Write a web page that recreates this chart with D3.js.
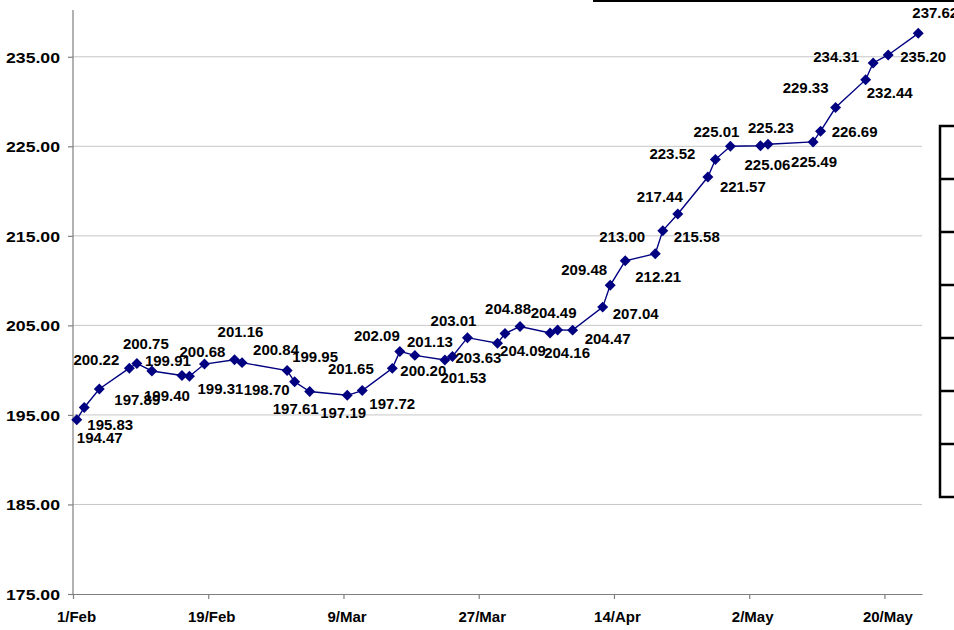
<!DOCTYPE html>
<html>
<head>
<meta charset="utf-8">
<script src="https://cdn.jsdelivr.net/npm/d3@7/dist/d3.min.js"></script>
<style>
  body { margin: 0; background: #fff; }
  svg { display: block; }
  text { font-family: Arial, "Liberation Sans", sans-serif; font-weight: bold; fill: #000; }
</style>
</head>
<body>
<svg id="chart" width="954" height="630"></svg>
<script>
'use strict';

// ── data ────────────────────────────────────────────────
const dates = [
  '2011-02-01', '2011-02-02', '2011-02-04', '2011-02-08', '2011-02-09', '2011-02-11',
  '2011-02-15', '2011-02-16', '2011-02-18', '2011-02-22', '2011-02-23', '2011-03-01',
  '2011-03-02', '2011-03-04', '2011-03-09', '2011-03-11', '2011-03-15', '2011-03-16',
  '2011-03-18', '2011-03-22', '2011-03-23', '2011-03-25', '2011-03-29', '2011-03-30',
  '2011-04-01', '2011-04-05', '2011-04-06', '2011-04-08', '2011-04-12', '2011-04-13',
  '2011-04-15', '2011-04-19', '2011-04-20', '2011-04-22', '2011-04-26', '2011-04-27',
  '2011-04-29', '2011-05-03', '2011-05-04', '2011-05-10', '2011-05-11', '2011-05-13',
  '2011-05-17', '2011-05-18', '2011-05-20', '2011-05-24'
];
const values = [
  194.47, 195.83, 197.89, 200.22, 200.75, 199.91,
  199.40, 199.31, 200.68, 201.16, 200.84, 199.95,
  198.70, 197.61, 197.19, 197.72, 200.20, 202.09,
  201.65, 201.13, 201.53, 203.63, 203.01, 204.09,
  204.88, 204.16, 204.49, 204.47, 207.04, 209.48,
  212.21, 213.00, 215.58, 217.44, 221.57, 223.52,
  225.01, 225.06, 225.23, 225.49, 226.69, 229.33,
  232.44, 234.31, 235.20, 237.62
];
const yTicks = [175, 185, 195, 205, 215, 225, 235];
const xTicks = ['2011-02-01', '2011-02-19', '2011-03-09', '2011-03-27', '2011-04-14', '2011-05-02', '2011-05-20'];

// label placement relative to its point (layout only)
const labelNudge = [
  [23, 18], [26, 17], [38, 11], [-33, -9], [9, -20], [16, -10],
  [-15, 20], [31, 12], [-2, -12], [6, -28], [34, -13], [28, -14],
  [-28, 8], [-14, 17], [-4, 17], [30, 13], [31, 2], [-23, -16],
  [-64, 13], [-15, -18], [11, 21], [11, 20], [-44, -23], [18, 17],
  [-12, -18], [17, 20], [-4, -17], [35, 8], [33, 6], [-26, -16],
  [33, 16], [-33, -17], [34, 6], [-18, -17], [35, 10], [-43, -6],
  [-14, -15], [7, 19], [3, -17], [1, 20], [34, 0], [-30, -20],
  [24, 13], [-37, -6], [35, 2], [17, -21]
];

// ── layout ──────────────────────────────────────────────
const L = 73, R = 922, T = 12, B = 594;
const NAVY = '#000080';
const parse = d3.utcParse('%Y-%m-%d');
const HALF_DAY = 12 * 3600 * 1000;

const svg = d3.select('#chart');

const x = d3.scaleUtc()
  .domain([parse('2011-02-01'), parse('2011-05-25')])
  .range([L, R]);
const y = d3.scaleLinear()
  .domain([175, 240])
  .range([B, T]);

const points = dates.map((d, i) => ({
  date: new Date(parse(d).getTime() + HALF_DAY),
  value: values[i],
  nudge: labelNudge[i]
}));

// gridlines
svg.append('g')
  .selectAll('line')
  .data(yTicks.filter(v => v > 175))
  .join('line')
  .attr('x1', L).attr('x2', R)
  .attr('y1', d => y(d)).attr('y2', d => y(d))
  .attr('stroke', '#c6c6c6')
  .attr('stroke-width', 1);

// y axis
const yAxis = svg.append('g')
  .attr('transform', `translate(${L},0)`)
  .call(d3.axisLeft(y).tickValues(yTicks).tickFormat(d3.format('.2f')).tickSize(5).tickSizeOuter(0));
yAxis.select('.domain').attr('d', `M0,${T - 2}V${B}`);

// x axis
const xAxis = svg.append('g')
  .attr('transform', `translate(0,${B})`)
  .call(d3.axisBottom(x).tickValues(xTicks.map(parse)).tickFormat(d3.utcFormat('%-d/%b')).tickSize(5).tickSizeOuter(0));

[yAxis, xAxis].forEach(a => {
  a.selectAll('.domain, .tick line').attr('stroke', '#7f7f7f').attr('stroke-width', 1.2);
  a.selectAll('.tick text')
    .attr('font-family', 'Arial, "Liberation Sans", sans-serif')
    .attr('font-weight', 'bold')
    .attr('font-size', 15)
    .attr('fill', '#000');
});
yAxis.selectAll('.tick text').attr('x', -13).attr('dy', '0.36em')
  .attr('textLength', 54).attr('lengthAdjust', 'spacingAndGlyphs');
xAxis.selectAll('.tick text').attr('x', 3).attr('y', 17);

// series line
svg.append('path')
  .datum(points)
  .attr('fill', 'none')
  .attr('stroke', NAVY)
  .attr('stroke-width', 1.4)
  .attr('d', d3.line().x(d => x(d.date)).y(d => y(d.value)));

// diamond markers
svg.append('g')
  .selectAll('path')
  .data(points)
  .join('path')
  .attr('d', d3.symbol(d3.symbolSquare, 60))
  .attr('transform', d => `translate(${x(d.date)},${y(d.value)}) rotate(45)`)
  .attr('fill', NAVY);

// data labels
svg.append('g')
  .selectAll('text')
  .data(points)
  .join('text')
  .attr('x', d => x(d.date) + d.nudge[0])
  .attr('y', d => y(d.value) + d.nudge[1])
  .attr('dy', '0.36em')
  .attr('text-anchor', 'middle')
  .attr('font-size', 15)
  .text(d => d3.format('.2f')(d.value));

// pieces of the frames that are cut off at the edges
svg.append('line')
  .attr('x1', 593).attr('x2', 954).attr('y1', 1).attr('y2', 1)
  .attr('stroke', '#000').attr('stroke-width', 2);

const boxRows = 7, boxTop = 126, boxRow = 53;
svg.append('rect')
  .attr('x', 940).attr('y', boxTop).attr('width', 30).attr('height', boxRows * boxRow)
  .attr('fill', 'none').attr('stroke', '#000').attr('stroke-width', 2.5);
svg.append('g')
  .selectAll('line')
  .data(d3.range(1, boxRows))
  .join('line')
  .attr('x1', 940).attr('x2', 954)
  .attr('y1', i => boxTop + i * boxRow).attr('y2', i => boxTop + i * boxRow)
  .attr('stroke', '#000').attr('stroke-width', 2.5);
</script>
</body>
</html>
